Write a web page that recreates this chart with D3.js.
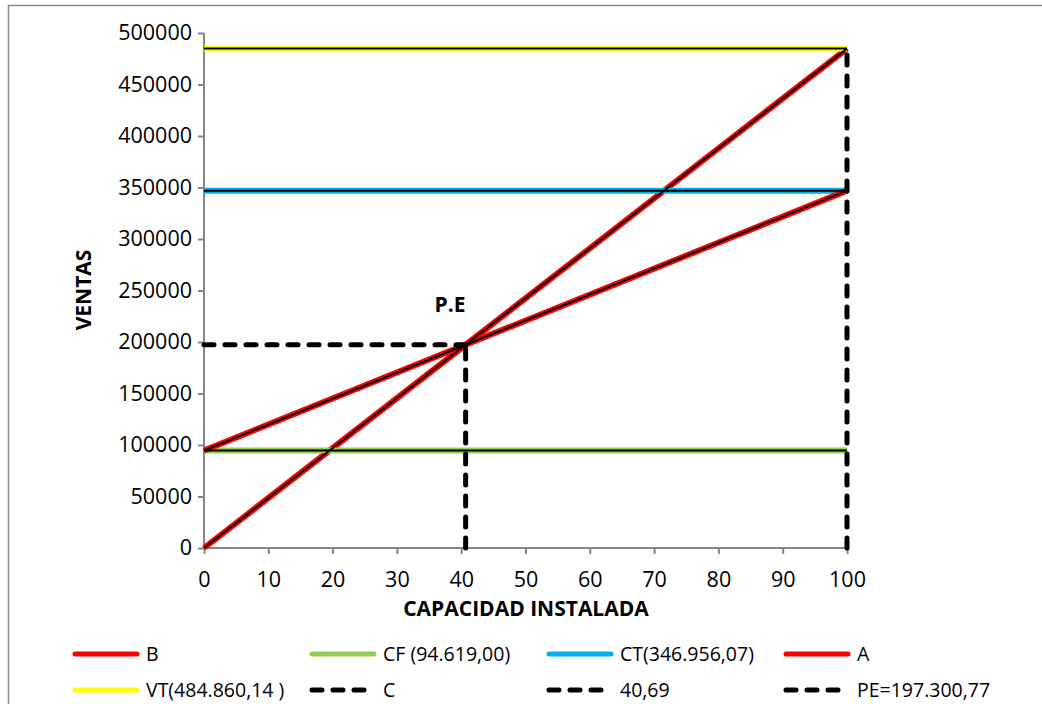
<!DOCTYPE html>
<html><head><meta charset="utf-8">
<script src="https://cdn.jsdelivr.net/npm/d3@7"></script>
<style>body{margin:0;background:#fff}svg{display:block}text{font-family:"Open Sans",sans-serif;fill:#000}</style>
</head><body>
<svg id="c" width="1042" height="704"></svg>
<script>
const capacidad = [0, 100];
const serieB = [0, 484860.14];
const serieA = [94619.00, 346956.07];
const serieCF = [94619.00, 94619.00];
const serieCT = [346956.07, 346956.07];
const serieVT = [484860.14, 484860.14];
const serieC = [[100, 0], [100, 484860.14]];
const serie4069 = [[40.69, 0], [40.69, 197300.77]];
const seriePE = [[0, 197300.77], [40.69, 197300.77]];
const xTicks = [0,10,20,30,40,50,60,70,80,90,100];
const yTicks = [0,50000,100000,150000,200000,250000,300000,350000,400000,450000,500000];
const legendNames = ["B","CF (94.619,00)","CT(346.956,07)","A","VT(484.860,14 )","C","40,69","PE=197.300,77"];

const svg = d3.select("#c");
svg.append("rect").attr("x",8.5).attr("y",5.5).attr("width",1200).attr("height",900)
  .attr("fill","none").attr("stroke","#8c8c8c").attr("stroke-width",1.5);

const x = d3.scaleLinear().domain([0,100]).range([204,847]);
const y = d3.scaleLinear().domain([0,500000]).range([548,33]);

const axisColor = "#868686";
const gx = svg.append("g").attr("transform","translate(0,548)")
  .call(d3.axisBottom(x).tickValues(xTicks).tickSize(6).tickPadding(18).tickFormat(d3.format("d")));
const gy = svg.append("g").attr("transform","translate(204,0)")
  .call(d3.axisLeft(y).tickValues(yTicks).tickSize(6).tickPadding(6).tickFormat(d3.format("d")));
[gx,gy].forEach(g=>{
  g.select(".domain").attr("stroke",axisColor).attr("stroke-width",2);
  g.selectAll(".tick line").attr("stroke",axisColor).attr("stroke-width",2);
  g.selectAll(".tick text").style("font-family","Open Sans").style("font-size","21.5px").attr("fill","#000");
});
gx.select(".domain").attr("d","M204,0H847");
gy.select(".domain").attr("d","M0,548V33");

svg.append("text").attr("x",526).attr("y",616).attr("text-anchor","middle")
  .style("font-weight","bold").style("font-size","21px").text("CAPACIDAD INSTALADA");
svg.append("text").attr("transform","translate(91,290) rotate(-90)").attr("text-anchor","middle")
  .style("font-weight","bold").style("font-size","21px").text("VENTAS");
svg.append("text").attr("x",450).attr("y",312).attr("text-anchor","middle")
  .style("font-weight","bold").style("font-size","21px").text("P.E");

const line = d3.line().x(d=>x(d[0])).y(d=>y(d[1]));
const pts = vals => capacidad.map((c,i)=>[c, vals[i]]);
const solid = [
  {data: pts(serieB), color:"#ff0000"},
  {data: pts(serieCF), color:"#92d050"},
  {data: pts(serieCT), color:"#00b0f0"},
  {data: pts(serieA), color:"#ff0000"},
  {data: pts(serieVT), color:"#ffff00"}
];
solid.forEach(s=>{
  svg.append("path").attr("d",line(s.data)).attr("fill","none").attr("stroke",s.color).attr("stroke-width",6);
});
solid.forEach(s=>{
  svg.append("path").attr("d",line(s.data)).attr("fill","none").attr("stroke","#000").attr("stroke-width",2);
});
[serieC, serie4069, seriePE].forEach(d=>{
  svg.append("path").attr("d",line(d)).attr("fill","none").attr("stroke","#000")
    .attr("stroke-width",5).attr("stroke-linecap","round").attr("stroke-dasharray","10,11");
});

const legColors = ["#ff0000","#92d050","#00b0f0","#ff0000","#ffff00","#000","#000","#000"];
const colX = [73,310,547,784];
const rowY = [654,690];
legendNames.forEach((n,i)=>{
  const cx = colX[i%4], cy = rowY[Math.floor(i/4)];
  const dashed = i>=5;
  svg.append("line").attr("x1",cx+2).attr("x2",cx+64).attr("y1",cy).attr("y2",cy)
    .attr("stroke",legColors[i]).attr("stroke-width",5).attr("stroke-linecap","round")
    .attr("stroke-dasharray",dashed?"10,11":null);
  svg.append("text").attr("x",cx+73).attr("y",cy+7).style("font-size","19.5px").text(n);
});
</script>
</body></html>
